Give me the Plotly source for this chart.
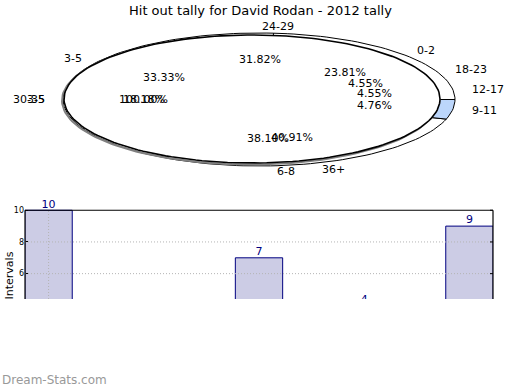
import numpy as np
import plotly.graph_objects as go

# ---------------- data ----------------
title_text = "Hit out tally for David Rodan - 2012 tally"

pie_a_labels = ["0-2", "3-5", "6-8", "9-11"]
pie_a_counts = [5, 7, 8, 1]

pie_b_labels = ["12-17", "18-23", "24-29", "30-35", "36+"]
pie_b_counts = [1, 1, 7, 4, 9]

pie_c_labels = ["3-5"]
pie_c_counts = [1]

bar_positions = [0, 1, 2, 3, 4]
bar_values = [10, 3, 7, 4, 9]
y_tick_values = [6, 8, 10]
y_axis_title = "Intervals"
watermark = "Dream-Stats.com"

# ---------------- layout constants ----------------
W, H = 520, 390
FONT = "DejaVu Sans"
# nominal pie geometry used for label placement (pixel space of overlay axis)
PIE_CX, PIE_CY, PIE_RX, PIE_RY = 259.6, 99.5, 193.3, 66.0
# drawn ellipses
OUT_CX, OUT_CY, OUT_RX, OUT_RY = 259, 99.5, 196, 66.5
TOP_CX, TOP_CY, TOP_RX, TOP_RY = 252, 99, 188, 64
LABEL_DIST, PCT_DIST = 1.1, 0.6

pie_a_colors = ["white", "white", "white", "#bcd6fb"]
pie_b_colors = ["white"] * 5
pie_c_colors = ["white"]

GRID_COLOR = "#b4b4b4"

fig = go.Figure()


def wedge(cx, cy, rx, ry, t0, t1):
    n = max(4, int(abs(t1 - t0) / 2) + 2)
    th = np.radians(np.linspace(t0, t1, n))
    xs = cx + rx * np.cos(th)
    ys = cy - ry * np.sin(th)
    if abs(t1 - t0) >= 359.99:
        return list(xs), list(ys)
    return [cx] + list(xs) + [cx], [cy] + list(ys) + [cy]


def add_pie(counts, colors, cx, cy, rx, ry, line_color, line_width):
    total = float(sum(counts))
    start = 0.0
    for c, col in zip(counts, colors):
        span = 360.0 * c / total
        xs, ys = wedge(cx, cy, rx, ry, start, start + span)
        fig.add_trace(go.Scatter(
            x=xs, y=ys, mode="lines", fill="toself", fillcolor=col,
            line=dict(color=line_color, width=line_width),
            xaxis="x2", yaxis="y2", hoverinfo="skip", showlegend=False))
        start += span


def pie_annotations(labels, counts):
    total = float(sum(counts))
    start = 0.0
    anns = []
    for lab, c in zip(labels, counts):
        span = 360.0 * c / total
        mid = np.radians(start + span / 2)
        cs, sn = np.cos(mid), np.sin(mid)
        lx = PIE_CX + LABEL_DIST * PIE_RX * cs
        ly = PIE_CY - LABEL_DIST * PIE_RY * sn
        anns.append(dict(x=lx, y=ly, xref="x2", yref="y2", text=lab,
                         showarrow=False, xanchor="left" if cs > 0 else "right",
                         yanchor="middle", font=dict(family=FONT, size=11, color="black")))
        px = PIE_CX + PCT_DIST * PIE_RX * cs
        py = PIE_CY - PCT_DIST * PIE_RY * sn
        anns.append(dict(x=px, y=py, xref="x2", yref="y2",
                         text=f"{100.0 * c / total:.2f}%", showarrow=False,
                         xanchor="center", yanchor="middle",
                         font=dict(family=FONT, size=11, color="black")))
        start += span
    return anns


# ---------------- bar chart (x/y) ----------------
fig.add_trace(go.Bar(
    x=bar_positions, y=bar_values, width=0.45,
    marker=dict(color="#ccccE5", line=dict(color="#000080", width=1)),
    hoverinfo="skip", showlegend=False))
fig.add_trace(go.Scatter(
    x=bar_positions, y=bar_values, mode="text", text=[str(v) for v in bar_values],
    textposition="top center", cliponaxis=True,
    textfont=dict(family=FONT, size=11, color="#000080"),
    hoverinfo="skip", showlegend=False))

# ---------------- pies (overlay axis in pixel units) ----------------
add_pie(pie_a_counts, pie_a_colors, OUT_CX, OUT_CY, OUT_RX, OUT_RY, "black", 1)
sx, sy = wedge(TOP_CX - 2, TOP_CY + 1.5, TOP_RX, TOP_RY, 0, 360)
fig.add_trace(go.Scatter(x=sx, y=sy, mode="lines", line=dict(color="#808080", width=2),
                         xaxis="x2", yaxis="y2", hoverinfo="skip", showlegend=False))
add_pie(pie_b_counts, pie_b_colors, TOP_CX, TOP_CY, TOP_RX, TOP_RY, "white", 0.5)
add_pie(pie_c_counts, pie_c_colors, TOP_CX, TOP_CY, TOP_RX, TOP_RY, "black", 1.6)

annotations = []
annotations += pie_annotations(pie_a_labels, pie_a_counts)
annotations += pie_annotations(pie_b_labels, pie_b_counts)
annotations += pie_annotations(pie_c_labels, pie_c_counts)

X0, X1 = 25 / W, 493 / W
Y_BOT = (H - 299) / H
Y_TOP = (H - 196) / H
Y_FRAME = (H - 210) / H

annotations.append(dict(x=0.5, y=1 - 10 / H, xref="paper", yref="paper", text=title_text,
                        showarrow=False, xanchor="center", yanchor="middle",
                        font=dict(family=FONT, size=13, color="black")))
annotations.append(dict(x=0, y=(H - 276) / H, xref="paper", yref="paper", text=y_axis_title,
                        showarrow=False, xanchor="left", yanchor="middle", textangle=-90,
                        font=dict(family=FONT, size=11, color="black")))
annotations.append(dict(x=0, y=(H - 380) / H, xref="paper", yref="paper", text=watermark,
                        showarrow=False, xanchor="left", yanchor="middle",
                        font=dict(family=FONT, size=12, color="#999999")))

shapes = []
# dotted grid drawn above bars (as in the reference)
for tv in y_tick_values[:-1]:
    shapes.append(dict(type="line", xref="paper", yref="y", x0=X0, x1=X1, y0=tv, y1=tv,
                       line=dict(color=GRID_COLOR, width=1, dash="1px,2px"), layer="above"))
shapes.append(dict(type="line", xref="x", yref="paper", x0=bar_positions[0], x1=bar_positions[0],
                   y0=Y_BOT, y1=Y_FRAME,
                   line=dict(color=GRID_COLOR, width=1, dash="1px,2px"), layer="above"))
# frame
shapes += [
    dict(type="line", xref="paper", yref="y", x0=X0, x1=X1, y0=10, y1=10,
         line=dict(color="black", width=1.2), layer="above"),
    dict(type="line", xref="paper", yref="y", x0=X0, x1=X0, y0=4.4, y1=10,
         line=dict(color="black", width=1.2), layer="above"),
    dict(type="line", xref="paper", yref="y", x0=X1, x1=X1, y0=4.4, y1=10,
         line=dict(color="black", width=1.2), layer="above"),
]
# mirrored tick marks on the right edge
for tv in y_tick_values:
    shapes.append(dict(type="line", xref="paper", yref="y", x0=X1 - 3 / W, x1=X1, y0=tv, y1=tv,
                       line=dict(color="black", width=1), layer="above"))

fig.update_layout(
    width=W, height=H, margin=dict(l=0, r=0, t=0, b=0),
    paper_bgcolor="white", plot_bgcolor="rgba(0,0,0,0)",
    font=dict(family=FONT),
    xaxis=dict(domain=[X0, X1], range=[-0.224, 4.224], showticklabels=False,
               ticks="", showgrid=False, zeroline=False, showline=False, fixedrange=True),
    yaxis=dict(domain=[Y_BOT, Y_TOP], range=[4.4, 10.9], tickvals=y_tick_values,
               ticks="inside", ticklen=3, tickcolor="black",
               tickfont=dict(family=FONT, size=8, color="black"),
               showgrid=False, zeroline=False, showline=False, layer="above traces",
               fixedrange=True),
    xaxis2=dict(domain=[0, 1], range=[0, W], visible=False, anchor="y2", fixedrange=True),
    yaxis2=dict(domain=[0, 1], range=[H, 0], visible=False, anchor="x2", fixedrange=True),
    annotations=annotations,
    shapes=shapes,
    showlegend=False,
)

fig.write_html("out.html")
